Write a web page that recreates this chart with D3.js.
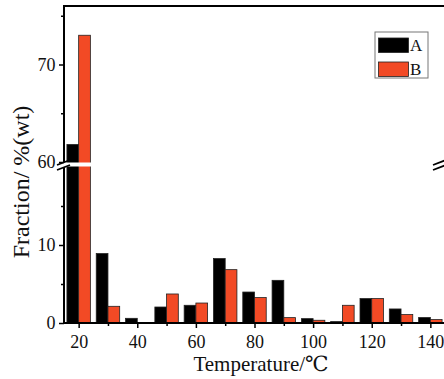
<!DOCTYPE html>
<html>
<head>
<meta charset="utf-8">
<script src="https://cdn.jsdelivr.net/npm/d3@7"></script>
<style>
  html, body { margin: 0; padding: 0; background: #fff; }
  svg { display: block; }
  svg text { font-family: "Liberation Serif", "Times New Roman", "DejaVu Serif", serif; }
</style>
</head>
<body>
<div id="app"></div>
<script>
// data
const temps = [20, 30, 40, 50, 60, 70, 80, 90, 100, 110, 120, 130, 140];
const seriesA = [61.8, 8.9, 0.6, 2.05, 2.27, 8.26, 3.97, 5.47, 0.56, 0.18, 3.13, 1.8, 0.7];
const seriesB = [73.0, 2.14, 0, 3.72, 2.56, 6.84, 3.26, 0.69, 0.35, 2.27, 3.13, 1.08, 0.44];
const seriesNames = ["A", "B"];
const xTicks = [20, 40, 60, 80, 100, 120, 140];
const xMinor = [30, 50, 70, 90, 110, 130];
const yLowTicks = [0, 10];
const yLowMinor = [5, 15];
const yHighTicks = [60, 70];
const yHighMinor = [65, 75];

const WIDTH = 444;
const HEIGHT = 379;
const COLORS = ["#000000", "#f24a25"];
const BAR_W = 4; // in temperature units
const FONT = "'Liberation Serif', 'Times New Roman', serif";

const LEFT = 64, RIGHT = 445, BOTTOM = 323, TOP = 6;
const BREAK_LO = 167, BREAK_HI = 162;

const x = d3.scaleLinear().domain([15, 145]).range([LEFT, RIGHT]);
const yLow = d3.scaleLinear().domain([0, 20]).range([BOTTOM, BREAK_LO]);
const yHigh = d3.scaleLinear().domain([60, 76]).range([BREAK_HI, TOP]);

function yVal(v) {
  return v > 20 ? yHigh(v) : yLow(v);
}

const svg = d3.select("#app").append("svg")
  .attr("width", WIDTH)
  .attr("height", HEIGHT);

// bars
const series = [seriesA, seriesB];
series.forEach((vals, si) => {
  svg.append("g")
    .selectAll("rect")
    .data(temps.map((t, i) => ({ t, v: vals[i] })).filter(d => d.v > 0))
    .join("rect")
    .attr("x", d => x(si === 0 ? d.t - BAR_W : d.t))
    .attr("width", x(BAR_W) - x(0))
    .attr("y", d => yVal(d.v))
    .attr("height", d => BOTTOM - yVal(d.v))
    .attr("fill", COLORS[si])
    .attr("stroke", "#222")
    .attr("stroke-width", 0.8);
});

// break gap
svg.append("rect")
  .attr("x", LEFT - 2).attr("y", BREAK_HI + 0.5)
  .attr("width", RIGHT - LEFT + 4).attr("height", BREAK_LO - BREAK_HI - 1)
  .attr("fill", "#fff");

function styleAxis(g) {
  g.attr("font-family", FONT).attr("font-size", 18);
  g.selectAll(".domain").remove();
  g.selectAll(".tick line").attr("stroke", "#000").attr("stroke-width", 1.5);
  g.selectAll(".tick text").attr("fill", "#111");
}

// bottom axis
svg.append("g").attr("transform", `translate(0,${BOTTOM})`)
  .call(d3.axisBottom(x).tickValues(xTicks).tickSize(5).tickPadding(7).tickSizeOuter(0))
  .call(styleAxis);
svg.append("g").attr("transform", `translate(0,${BOTTOM})`)
  .call(d3.axisBottom(x).tickValues(xMinor).tickSize(3).tickFormat(""))
  .call(styleAxis);

// left axes
[[yLow, yLowTicks, yLowMinor], [yHigh, yHighTicks, yHighMinor]].forEach(([sc, maj, min]) => {
  svg.append("g").attr("transform", `translate(${LEFT},0)`)
    .call(d3.axisLeft(sc).tickValues(maj).tickSize(5).tickPadding(3.5).tickSizeOuter(0))
    .call(styleAxis);
  svg.append("g").attr("transform", `translate(${LEFT},0)`)
    .call(d3.axisLeft(sc).tickValues(min).tickSize(3).tickFormat(""))
    .call(styleAxis);
});

// frame lines
const frame = svg.append("g").attr("stroke", "#000").attr("stroke-width", 2).attr("fill", "none");
frame.append("line").attr("x1", LEFT - 1).attr("x2", WIDTH).attr("y1", BOTTOM).attr("y2", BOTTOM);
frame.append("line").attr("x1", LEFT - 1).attr("x2", WIDTH).attr("y1", TOP).attr("y2", TOP);
frame.append("line").attr("x1", LEFT).attr("x2", LEFT).attr("y1", TOP).attr("y2", BREAK_HI);
frame.append("line").attr("x1", LEFT).attr("x2", LEFT).attr("y1", BREAK_LO).attr("y2", BOTTOM);
frame.append("line").attr("x1", RIGHT).attr("x2", RIGHT).attr("y1", TOP).attr("y2", BREAK_HI);
frame.append("line").attr("x1", RIGHT).attr("x2", RIGHT).attr("y1", BREAK_LO).attr("y2", BOTTOM);

// break marks
[LEFT, RIGHT - 5].forEach(cx => {
  const g = svg.append("g").attr("stroke", "#000").attr("stroke-width", 1.8);
  g.append("line").attr("x1", cx - 7).attr("y1", BREAK_HI + 3).attr("x2", cx + 6).attr("y2", BREAK_HI - 2);
  g.append("line").attr("x1", cx - 7).attr("y1", BREAK_LO + 3).attr("x2", cx + 6).attr("y2", BREAK_LO - 2);
});

// axis titles
svg.append("text")
  .attr("x", 261).attr("y", 371)
  .attr("text-anchor", "middle")
  .attr("font-family", FONT)
  .attr("font-size", 21)
  .attr("fill", "#111")
  .text("Temperature/℃");

svg.append("text")
  .attr("transform", "translate(29,182) rotate(-90)")
  .attr("text-anchor", "middle")
  .attr("font-family", FONT)
  .attr("font-size", 24)
  .attr("fill", "#111")
  .text("Fraction/ %(wt)");

// legend
const legend = svg.append("g").attr("transform", "translate(375,32)");
legend.append("rect")
  .attr("width", 53).attr("height", 46)
  .attr("fill", "#fff").attr("stroke", "#777").attr("stroke-width", 1);
seriesNames.forEach((name, i) => {
  legend.append("rect")
    .attr("x", 3.5).attr("y", 6 + i * 24)
    .attr("width", 30).attr("height", 14.5)
    .attr("fill", COLORS[i]).attr("stroke", "#222").attr("stroke-width", 0.8);
  legend.append("text")
    .attr("x", 35).attr("y", 19 + i * 24)
    .attr("font-family", FONT)
    .attr("font-size", 17)
    .attr("fill", "#111")
    .text(name);
});
</script>
</body>
</html>
